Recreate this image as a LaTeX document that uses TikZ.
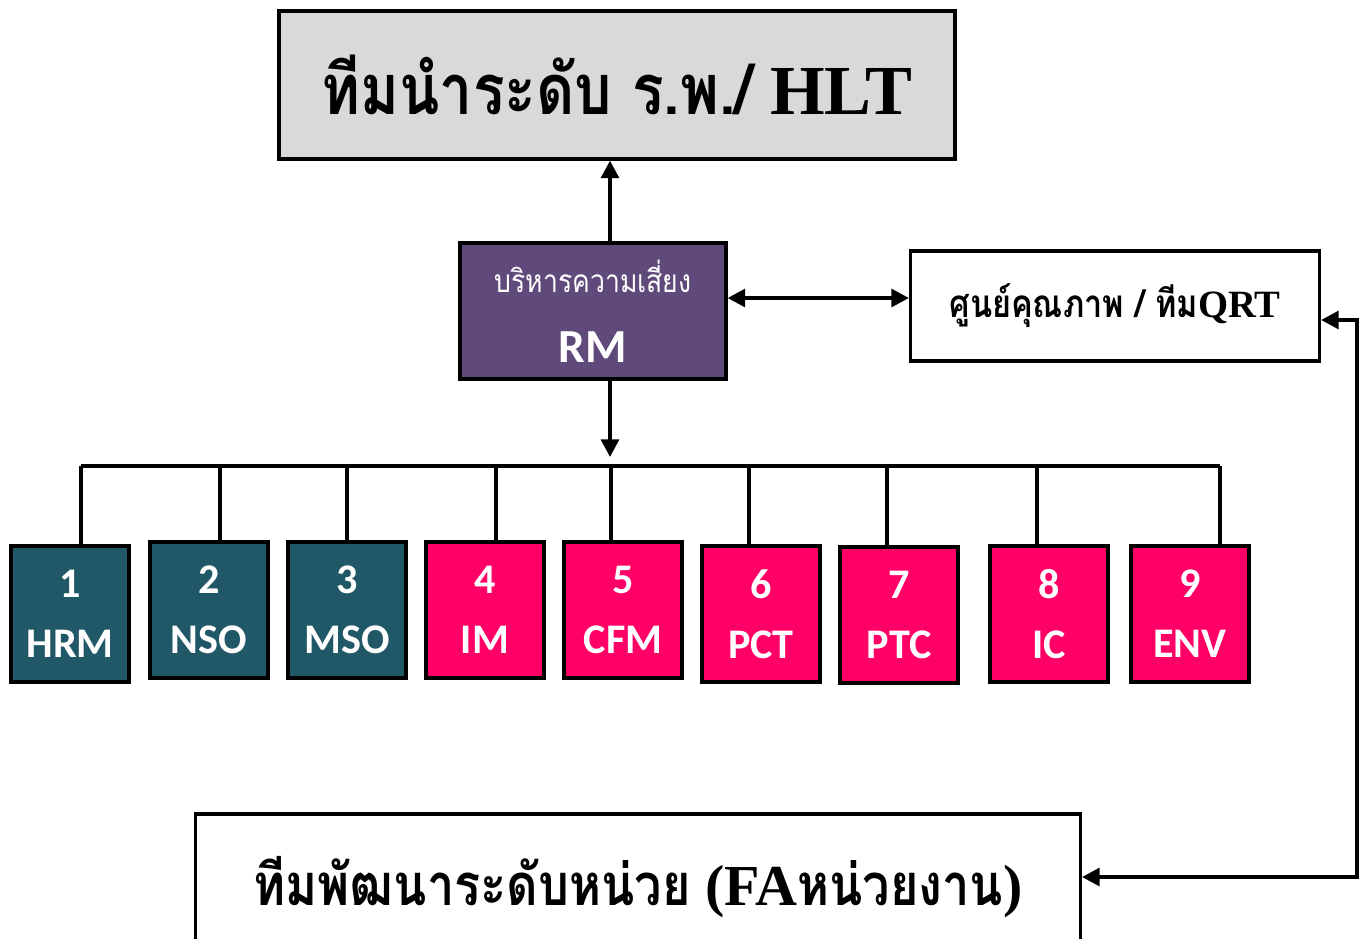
\documentclass[tikz,border=0pt]{standalone}
\usepackage{fontspec}
\setmainfont{Liberation Serif}
\newfontfamily\thaifont[Script=Thai, FakeStretch=0.84]{Loma}
\newfontfamily\boxfont{Carlito}
\usetikzlibrary{positioning,arrows.meta}

\definecolor{hltgray}{HTML}{D9D9D9}
\definecolor{rmpurple}{HTML}{604A7B}
\definecolor{teamteal}{HTML}{215867}
\definecolor{teampink}{HTML}{FF0066}

\tikzset{
	frame/.style={draw=black, line width=1.8pt, inner sep=0pt, align=center},
	team/.style={frame, minimum width=2.36cm, minimum height=2.72cm, text=white,
		font=\boxfont\bfseries\fontsize{24}{34}\selectfont},
	link/.style={line width=2.3pt},
	arr/.style={link, -{Triangle[length=10pt,width=10pt]}},
	arrboth/.style={link, {Triangle[length=10pt,width=10pt]}-{Triangle[length=10pt,width=10pt]}}
}

\begin{document}
\begin{tikzpicture}[x=0.02cm, y=-0.02cm]
	\useasboundingbox (0,0) rectangle (1363,938);

	% Boxes:
	\node[frame, fill=hltgray, minimum width=13.52cm, minimum height=2.96cm,
		font=\bfseries\fontsize{40}{44}\selectfont] (hlt) at (617,85)
		{{\thaifont ทีมนำระดับ ร.พ./} HLT};
	\node[frame, fill=rmpurple, text=white, minimum width=5.32cm, minimum height=2.72cm] (rm) at (593,311)
		{{\thaifont\fontsize{18}{20}\selectfont บริหารความเสี่ยง}\\[21pt]{\boxfont\bfseries\fontsize{27}{28}\selectfont RM}};
	\node[frame, fill=white, minimum width=8.18cm, minimum height=2.2cm,
		font=\bfseries\fontsize{22}{26}\selectfont] (qrt) at (1115,306)
		{{\thaifont ศูนย์คุณภาพ / ทีม}QRT};
	\node[frame, fill=white, minimum width=17.7cm, minimum height=2.92cm,
		font=\bfseries\fontsize{33}{38}\selectfont] (fa) at (638,887)
		{{\thaifont ทีมพัฒนาระดับหน่วย} (FA{\thaifont หน่วยงาน})};

	\node[team, fill=teamteal] (t1) at (70,614) {1\\HRM};
	\node[team, fill=teamteal] (t2) at (209,610) {2\\NSO};
	\node[team, fill=teamteal] (t3) at (347,610) {3\\MSO};
	\node[team, fill=teampink] (t4) at (485,610) {4\\IM};
	\node[team, fill=teampink] (t5) at (623,610) {5\\CFM};
	\node[team, fill=teampink] (t6) at (761,614) {6\\PCT};
	\node[team, fill=teampink] (t7) at (899,615) {7\\PTC};
	\node[team, fill=teampink] (t8) at (1049,614) {8\\IC};
	\node[team, fill=teampink] (t9) at (1190,614) {9\\ENV};

	% Lines:
	\coordinate (rmup) at (610,243);
	\coordinate (rmdown) at (610,457);
	\coordinate (qy) at (0,298);
	\coordinate (loopA) at (1357,877);
	\coordinate (loopB) at (1357,320);
	\foreach \n/\dx in {1/81, 2/220, 3/347, 4/496, 5/611, 6/749, 7/887, 8/1037, 9/1220}
		\coordinate (d\n) at (\dx,466);

	\draw[arr] (rm.north -| rmup) -- (hlt.south -| rmup);
	\draw[arr] (rm.south -| rmdown) -- (rmdown);
	\draw[arrboth] (rm.east |- qy) -- (qrt.west |- qy);
	\draw[link, line width=2pt] (d1) -- (d9);
	\foreach \n in {1,...,9}
		\draw[link, line width=2pt] (d\n) -- (d\n |- t\n.north);
	\draw[arrboth] (fa.east |- loopA) -- (loopA) -- (loopB) -- (qrt.east |- loopB);

\end{tikzpicture}
\end{document}
